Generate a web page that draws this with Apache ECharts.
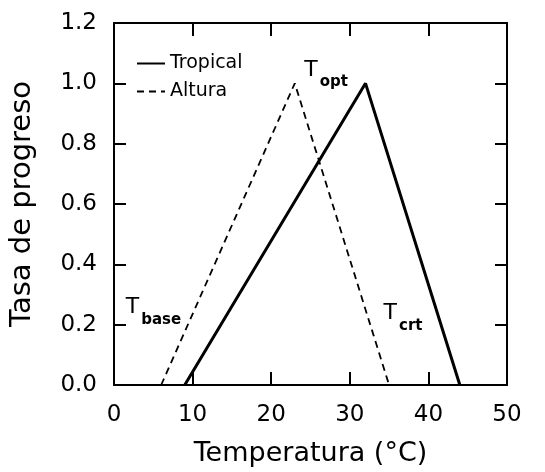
<!DOCTYPE html>
<html>
<head>
<meta charset="utf-8">
<script src="https://cdn.jsdelivr.net/npm/echarts@6/dist/echarts.min.js"></script>
<style>
  html, body { margin: 0; padding: 0; background: #fff; }
  #chart { width: 545px; height: 472px; }
</style>
</head>
<body>
<div id="chart"></div>
<script>
  // datos
  var tropical = [[9, 0], [32, 1.0], [44, 0]];
  var altura = [[6, 0], [23, 1.0], [35, 0]];
  var seriesNames = ['Tropical', 'Altura'];
  // etiquetas T: [x, y, subindice]
  var notes = [[24.2, 1.03, 'opt'], [1.5, 0.242, 'base'], [34.3, 0.222, 'crt']];

  var font = 'DejaVu Sans';
  var chart = echarts.init(document.getElementById('chart'));

  var tickX = { inside: true, length: 13, lineStyle: { color: '#000', width: 2 } };
  var tickY = { inside: true, length: 12, lineStyle: { color: '#000', width: 2 } };

  var option = {
    animation: false,
    grid: { left: 111, right: 38, top: 23, bottom: 85, show: true, borderColor: '#000', borderWidth: 2 },
    legend: {
      data: seriesNames,
      orient: 'vertical',
      left: 131, top: 49,
      itemWidth: 28, itemHeight: 14, itemGap: 9,
      itemStyle: { opacity: 0 },
      textStyle: { fontFamily: font, fontSize: 19, color: '#000' }
    },
    xAxis: [{
      type: 'value', min: 0, max: 50, interval: 10,
      name: 'Temperatura (°C)', nameLocation: 'middle', nameGap: 55,
      nameTextStyle: { fontFamily: font, fontSize: 27, color: '#000' },
      axisLine: { show: false, onZero: false },
      axisTick: tickX,
      axisLabel: { fontFamily: font, fontSize: 23, color: '#000', margin: 19 },
      splitLine: { show: false }
    }, {
      type: 'value', min: 0, max: 50, interval: 10, position: 'top',
      axisLine: { show: false, onZero: false },
      axisTick: tickX,
      axisLabel: { show: false }, splitLine: { show: false }
    }],
    yAxis: [{
      type: 'value', min: 0, max: 1.2, interval: 0.2,
      name: 'Tasa de progreso', nameLocation: 'middle', nameGap: 77,
      nameTextStyle: { fontFamily: font, fontSize: 29, color: '#000' },
      axisLine: { show: false, onZero: false },
      axisTick: tickY,
      axisLabel: { fontFamily: font, fontSize: 23, color: '#000', margin: 17,
        formatter: function (v) { return v.toFixed(1); } },
      splitLine: { show: false }
    }, {
      type: 'value', min: 0, max: 1.2, interval: 0.2, position: 'right',
      axisLine: { show: false, onZero: false },
      axisTick: tickY,
      axisLabel: { show: false }, splitLine: { show: false }
    }],
    series: [{
      name: seriesNames[0], type: 'line', data: tropical,
      symbol: 'none', lineStyle: { color: '#000', width: 3 }, itemStyle: { color: '#000' }
    }, {
      name: seriesNames[1], type: 'line', data: altura, xAxisIndex: 1, yAxisIndex: 1,
      symbol: 'none', lineStyle: { color: '#000', width: 1.8, type: [7, 5] }, itemStyle: { color: '#000' }
    }, {
      name: 'notas', type: 'scatter', symbolSize: 0, silent: true,
      itemStyle: { color: '#000', opacity: 1 },
      data: notes.map(function (n) { return { value: [n[0], n[1]], sub: n[2] }; }),
      label: {
        show: true, position: 'right', distance: 0, color: '#000',
        formatter: function (p) { return '{t|T}{s|' + p.data.sub + '}'; },
        rich: {
          t: { fontFamily: font, fontSize: 22, color: '#000', lineHeight: 31, verticalAlign: 'top' },
          s: { fontFamily: font, fontSize: 15, fontWeight: 'bold', color: '#000', lineHeight: 31,
            verticalAlign: 'bottom', padding: [0, 0, 0, 2] }
        }
      }
    }]
  };
  chart.setOption(option);
</script>
</body>
</html>
